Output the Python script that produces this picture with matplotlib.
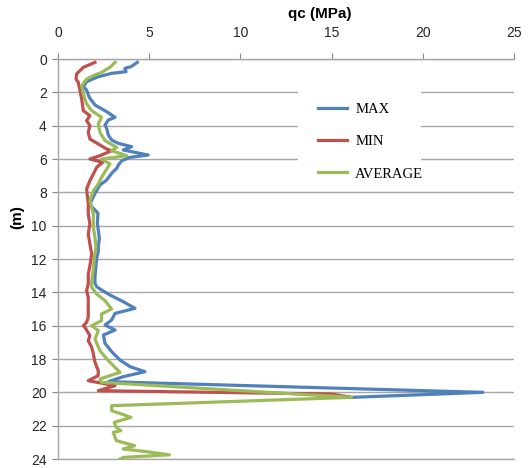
import matplotlib
matplotlib.use("Agg")
import matplotlib.pyplot as plt
from matplotlib.patches import Rectangle

# CPT profiles: depth (m) and cone resistance qc (MPa)
max_depth = [0.2, 0.46, 0.56, 0.76, 0.86, 1.06, 1.36, 1.66, 1.86, 2.16, 2.36, 2.76,
             3.16, 3.5, 3.66, 3.96, 4.16, 4.56, 4.86, 5.06, 5.26, 5.46, 5.76, 5.9,
             6.1, 6.36, 6.56, 6.86, 7.26, 7.56, 8.06, 8.46, 8.76, 9.06, 9.26, 9.86,
             10.26, 10.76, 11.26, 11.56, 11.96, 12.46, 13.06, 13.46, 13.66, 13.86,
             14.16, 14.56, 14.96, 15.26, 15.66, 15.96, 16.26, 16.56, 17.06, 17.56,
             18.06, 18.46, 18.76, 19.06, 19.36, 20.0, 20.3]
max_qc = [4.35, 4.0, 3.67, 3.73, 2.94, 2.21, 1.57, 1.39, 1.57, 1.66, 1.75, 2.03,
          2.67, 3.13, 2.76, 2.58, 2.67, 2.76, 2.94, 3.31, 4.04, 3.58, 4.95, 3.95,
          3.5, 3.31, 3.22, 2.94, 2.67, 2.3, 2.03, 1.85, 1.75, 2.03, 2.19, 2.16,
          2.21, 2.27, 2.21, 2.21, 2.12, 2.08, 2.03, 2.03, 2.12, 2.39,
          2.85, 3.58, 4.22, 3.13, 2.94, 2.58, 3.13, 2.49, 2.58, 2.94,
          3.4, 3.95, 4.77, 3.58, 2.76, 23.3, 16.1]

min_depth = [0.2, 0.5, 0.9, 1.2, 1.4, 1.9, 2.4, 3.1, 3.4, 3.7, 4.0, 4.4, 4.8, 5.1,
             5.4, 5.5, 5.8, 6.0, 6.2, 6.5, 6.9, 7.3, 7.8, 8.7, 9.3, 9.9, 10.5, 11.1,
             11.7, 12.4, 12.9, 13.5, 13.9, 14.3, 14.9, 15.5, 15.8, 16.0, 16.1, 16.6,
             16.9, 17.3, 17.7, 18.2, 18.7, 19.0, 19.3, 19.6, 19.9, 20.1, 20.3]
min_qc = [2.03, 1.39, 1.02, 0.99, 1.11, 1.21, 1.3, 1.39, 1.75, 1.57, 1.75, 1.66, 1.75, 2.21,
          2.67, 2.94, 2.3, 1.75, 2.45, 2.12, 1.94, 1.75, 1.57, 1.66, 1.66, 1.75, 1.66, 1.75,
          1.85, 1.75, 1.66, 1.66, 1.57, 1.66, 1.66, 1.66, 1.57, 1.39, 1.48, 1.75,
          1.66, 1.85, 1.94, 2.03, 2.21, 2.2, 1.66, 3.13, 2.21, 15.0, 16.1]

avg_depth = [0.2, 0.5, 0.8, 1.0, 1.2, 1.6, 2.1, 2.7, 3.1, 3.5, 3.9, 4.4, 4.9, 5.3, 5.5,
             5.8, 6.0, 6.3, 6.6, 7.1, 7.5, 7.9, 8.5, 9.3, 10.1, 10.7, 11.3, 11.9, 12.6,
             13.3, 13.7, 14.1, 14.5, 15.0, 15.3, 15.7, 16.0, 16.3, 16.8, 17.5, 18.1,
             18.8, 19.2, 19.4, 20.3, 20.8, 21.1, 21.3, 21.5, 21.8, 22.1, 22.3, 22.4,
             22.9, 23.2, 23.4, 23.55, 23.75, 23.9, 24.0]
avg_qc = [3.13, 2.85, 2.39, 1.94, 1.57, 1.3, 1.39, 1.57, 1.85, 2.39, 2.21, 2.3, 2.58, 3.22, 2.94,
          3.77, 2.39, 2.85, 2.67, 2.39, 2.21, 1.94, 1.75, 1.94, 1.94, 2.03, 2.08, 1.99, 1.94,
          1.85, 1.85, 2.12, 2.58, 2.94, 2.39, 2.39, 1.85, 2.21, 2.03, 2.3, 2.76,
          3.4, 2.3, 2.39, 16.1, 2.94, 2.94, 3.49, 4.0, 3.08, 3.2, 3.45, 3.03,
          3.2, 4.2, 3.58, 4.8, 6.1, 3.6, 3.4]

fig, ax = plt.subplots(figsize=(5.28, 4.68), dpi=100)
ax.set_position([0.1098, 0.0192, 0.8637, 0.8547])

ax.plot(max_qc, max_depth, color="#4F81BD", lw=2.3, label="MAX", zorder=3)
ax.plot(min_qc, min_depth, color="#C0504D", lw=2.3, label="MIN", zorder=3)
ax.plot(avg_qc, avg_depth, color="#9BBB59", lw=2.3, label="AVERAGE", zorder=3)

ax.set_xlim(0, 25)
ax.set_ylim(24, 0)
ax.set_xticks([0, 5, 10, 15, 20, 25])
ax.set_yticks(range(0, 25, 2))
ax.xaxis.tick_top()
ax.tick_params(axis="x", length=4, pad=9.5, color="#868686", labelsize=10,
               labelcolor="#262626")
ax.tick_params(axis="y", length=4, pad=4, color="#868686", labelsize=10,
               labelcolor="#262626")
for lbl in ax.get_xticklabels() + ax.get_yticklabels():
    lbl.set_fontfamily("Liberation Sans")

ax.yaxis.grid(True, color="#a6a6a6", lw=1)
ax.set_axisbelow(True)
ax.spines["right"].set_visible(False)
for side in ["top", "left", "bottom"]:
    ax.spines[side].set_color("#a6a6a6")
    ax.spines[side].set_linewidth(1)

# white area behind the legend
ax.add_patch(Rectangle((0.526, 0.6725), 0.27, 0.255, transform=ax.transAxes,
                       facecolor="white", edgecolor="none", zorder=1))

leg = ax.legend(loc="upper left", bbox_to_anchor=(318 / 528, 1 - 103 / 468),
                bbox_transform=fig.transFigure, frameon=False,
                prop={"family": "Liberation Serif", "size": 10.5},
                handlelength=2.0, handletextpad=0.55, labelspacing=1.3,
                borderpad=0, borderaxespad=0)
leg.set_zorder(5)

fig.text(320 / 528, 1 - 14 / 468, "qc (MPa)", ha="center", va="center",
         fontsize=11, fontweight="bold", family="Liberation Sans")
fig.text(17 / 528, 1 - 217 / 468, "(m)", ha="center", va="center", rotation=90,
         fontsize=11, fontweight="bold", family="Liberation Sans")

plt.savefig("out.png", dpi=100)
